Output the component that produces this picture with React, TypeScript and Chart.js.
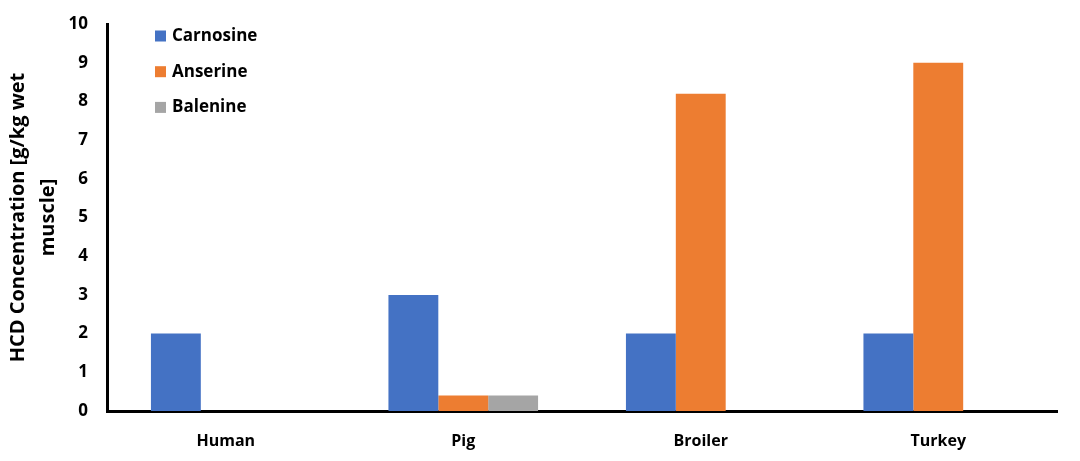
import React, { useEffect, useRef } from "react";
import { Chart, registerables } from "chart.js";

Chart.register(...registerables);

const categories = ["Human", "Pig", "Broiler", "Turkey"];
const seriesNames = ["Carnosine", "Anserine", "Balenine"];
const carnosine = [2, 3, 2, 2];
const anserine = [null, 0.4, 8.2, 9];
const balenine = [null, 0.4, null, null];
const seriesColors = ["#4472C4", "#ED7D31", "#A5A5A5"];
const yTicks = [0, 1, 2, 3, 4, 5, 6, 7, 8, 9, 10];
const yTitle = ["HCD Concentration [g/kg wet", "muscle]"];

const FONT = "'Open Sans', Lato, sans-serif";

const insideLegend = {
  id: "insideLegend",
  afterDraw(chart: any) {
    const { ctx, chartArea } = chart;
    ctx.save();
    ctx.font = `bold 17px ${FONT}`;
    ctx.textBaseline = "middle";
    ctx.textAlign = "left";
    chart.data.datasets.forEach((ds: any, i: number) => {
      const x = chartArea.left + 48;
      const y = chartArea.top + 12 + i * 35.7;
      ctx.fillStyle = ds.backgroundColor;
      ctx.fillRect(x, y - 5.5, 11, 11);
      ctx.fillStyle = "#000";
      ctx.fillText(ds.label, x + 17, y);
    });
    ctx.restore();
  },
};

export default function App() {
  const ref = useRef<HTMLCanvasElement | null>(null);
  useEffect(() => {
    if (!ref.current) return;
    const data = [carnosine, anserine, balenine];
    const chart = new Chart(ref.current, {
      type: "bar",
      data: {
        labels: categories,
        datasets: seriesNames.map((name, i) => ({
          label: name,
          data: data[i] as any,
          backgroundColor: seriesColors[i],
          borderWidth: 0,
          barPercentage: 1,
          categoryPercentage: 0.63,
        })),
      },
      options: {
        animation: false,
        responsive: false,
        maintainAspectRatio: false,
        layout: { padding: { top: 24, right: 23, left: 0, bottom: 0 } },
        plugins: {
          legend: { display: false },
          tooltip: { enabled: false },
        },
        scales: {
          x: {
            grid: { display: false, drawTicks: false },
            border: { display: true, color: "#000", width: 3 },
            ticks: {
              color: "#000",
              font: { family: FONT, size: 16, weight: "bold" },
              padding: 21,
            },
            afterFit(scale: any) {
              scale.height = 50;
              scale.paddingLeft = 0;
              scale.paddingRight = 0;
            },
          },
          y: {
            min: 0,
            max: 10,
            afterBuildTicks(scale: any) {
              scale.ticks = yTicks.map((v) => ({ value: v }));
            },
            grid: { display: false, drawTicks: false },
            border: { display: true, color: "#000", width: 3 },
            ticks: {
              color: "#000",
              font: { family: FONT, size: 17, weight: "bold" },
              padding: 19,
            },
            title: {
              display: true,
              text: yTitle,
              color: "#000",
              font: { family: FONT, size: 20, weight: "bold", lineHeight: 1.5 },
              padding: { top: 3, bottom: 0 },
            },
            afterFit(scale: any) {
              scale.width = 107;
              scale.paddingTop = 0;
              scale.paddingBottom = 0;
            },
          },
        },
      },
      plugins: [insideLegend],
    });
    return () => chart.destroy();
  }, []);
  return (
    <div style={{ position: "fixed", left: 0, top: 0, width: 1080, height: 461, background: "#fff" }}>
      <canvas ref={ref} width={1080} height={461} style={{ width: 1080, height: 461 }} />
    </div>
  );
}
